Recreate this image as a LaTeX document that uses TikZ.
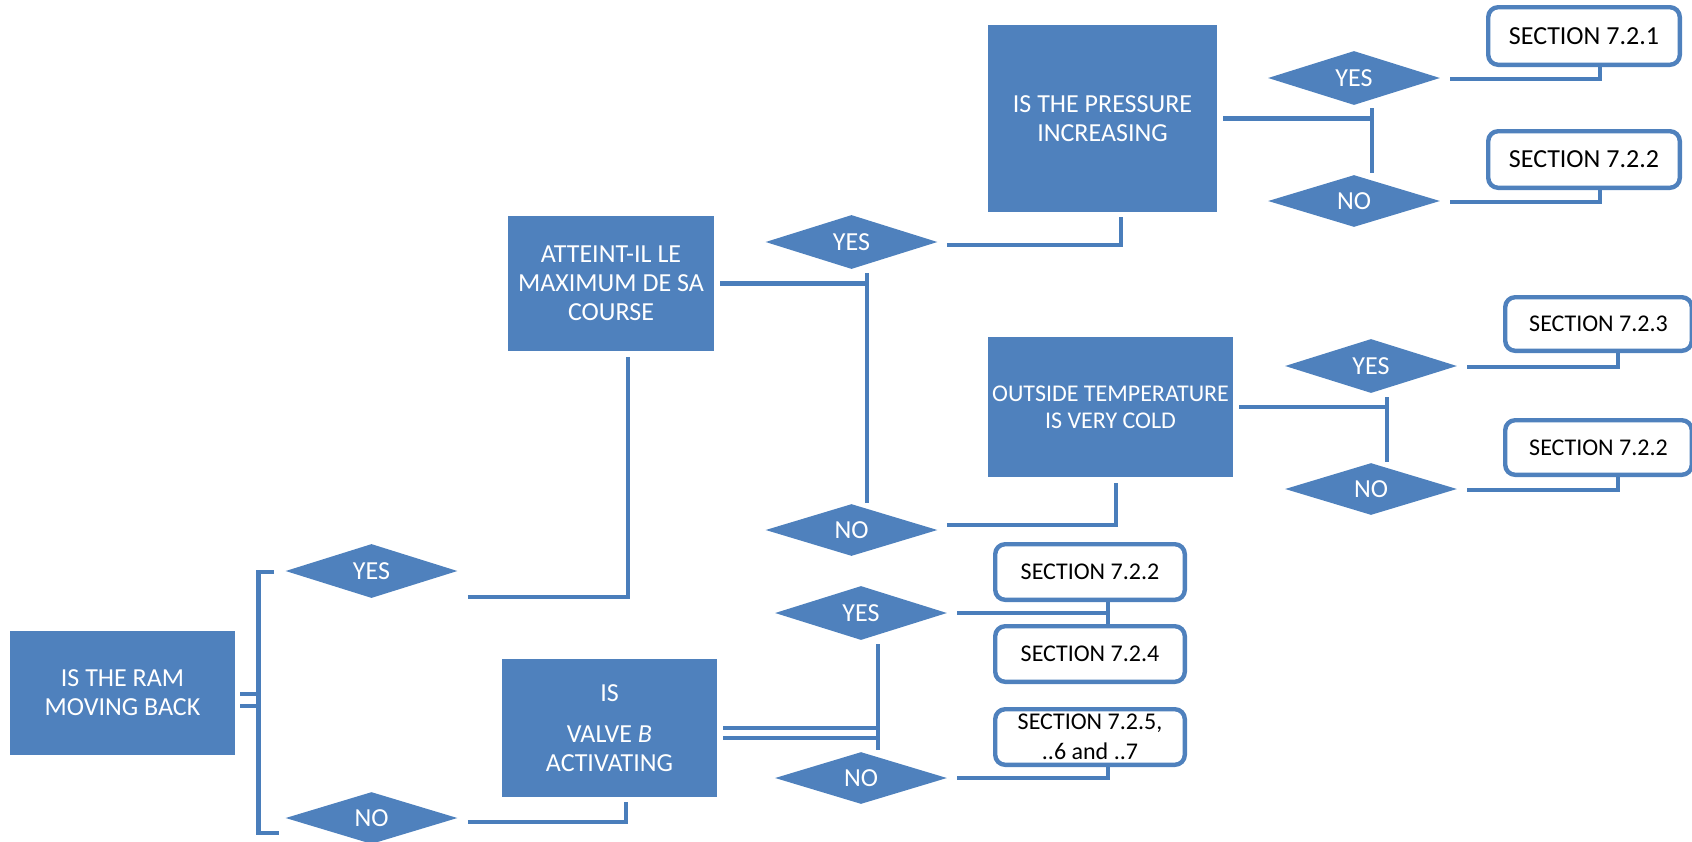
\documentclass[tikz,border=0pt]{standalone}
\usepackage{fontspec}
\setmainfont{Carlito}
\usetikzlibrary{shapes.geometric}
\definecolor{boxblue}{HTML}{4F81BD}
\definecolor{lineblue}{HTML}{4A7EBB}

\begin{document}
\begin{tikzpicture}[
    x=0.5pt, y=-0.5pt,
    text centered,
    question/.style={
      rectangle,
      fill=boxblue,
      text=white,
      align=center,
      inner sep=0,
      font=\fontsize{13}{14.5}\selectfont
    },
    answer/.style={
      diamond,
      fill=boxblue,
      text=white,
      minimum width=86pt,
      minimum height=26pt,
      inner sep=0,
      font=\fontsize{13}{15}\selectfont
    },
    section/.style={
      rectangle,
      rounded corners=5pt,
      draw=boxblue,
      line width=2.2pt,
      fill=white,
      align=center,
      inner sep=0,
      minimum width=94.8pt,
      minimum height=27.8pt,
      font=\fontsize{12}{15}\selectfont
    },
    link/.style={draw=lineblue, line width=2.2pt}
  ]

  \useasboundingbox (0,0) rectangle (1692,841);

  % questions
  \node [question] (R) at (122.5,693) [minimum width=112.5pt, minimum height=62pt] {IS THE RAM\\MOVING BACK};
  \node [question] (M) at (611,283.5) [minimum width=103pt, minimum height=67.5pt] {ATTEINT-IL LE\\MAXIMUM DE SA\\COURSE};
  \node [question] (V) at (609.5,728) [minimum width=107.5pt, minimum height=69pt] {IS\\[6pt]VALVE \textit{B}\\ACTIVATING};
  \node [question] (P) at (1102.5,118.5) [minimum width=114.5pt, minimum height=93.5pt] {IS THE PRESSURE\\INCREASING};
  \node [question] (T) at (1110.5,407) [minimum width=122.5pt, minimum height=70pt, font=\fontsize{12}{13.5}\selectfont] {OUTSIDE TEMPERATURE\\IS VERY COLD};

  % answers
  \node [answer] (Ry) at (371.5,571) {YES};
  \node [answer] (Rn) at (371.5,818) {NO};
  \node [answer] (My) at (851.5,242) {YES};
  \node [answer] (Mn) at (851.5,530) {NO};
  \node [answer] (Vy) at (861,613) {YES};
  \node [answer] (Vn) at (861,778) {NO};
  \node [answer] (Py) at (1354,78) {YES};
  \node [answer] (Pn) at (1354,201) {NO};
  \node [answer] (Ty) at (1371,366) {YES};
  \node [answer] (Tn) at (1371,489) {NO};

  % sections
  \node [section] (S1) at (1584,36) [minimum width=95.8pt, minimum height=28.8pt, font=\fontsize{13}{15}\selectfont] {SECTION 7.2.1};
  \node [section] (S2) at (1584,159.5) [minimum width=95.8pt, minimum height=28.3pt, font=\fontsize{13}{15}\selectfont] {SECTION 7.2.2};
  \node [section] (S3) at (1598.5,324) [minimum width=93.3pt, minimum height=26.8pt] {SECTION 7.2.3};
  \node [section] (S4) at (1598.5,447.5) [minimum width=93.3pt, minimum height=27.3pt] {SECTION 7.2.2};
  \node [section] (S5) at (1090,572) {SECTION 7.2.2};
  \node [section] (S6) at (1090,654) {SECTION 7.2.4};
  \node [section] (S7) at (1090,737) {SECTION 7.2.5,\\..6 and ..7};

  % ram
  \draw [link, line width=2pt] ([shift={(5,1)}]R.east) -- ++(19,0);
  \draw [link, line width=2pt] ([shift={(5,13)}]R.east) -- ++(19,0);
  \draw [link] ([shift={(-11,1)}]Ry.west) -- ++(-15.5,0) |- ([shift={(-6,15)}]Rn.west);
  \draw [link] ([shift={(10,26)}]Ry.east) -| ([shift={(17,6)}]M.south);
  \draw [link] ([shift={(10,4)}]Rn.east) -| ([shift={(16.5,5)}]V.south);

  % course
  \coordinate (m1) at ([shift={(15.5,4)}]My.south);
  \coordinate (m2) at ([shift={(15.5,-1)}]Mn.north);
  \draw [link] (m1) -- (m2);
  \draw [link] ([xshift=3pt]M.east) -- (M.east -| m1);
  \draw [link] ([shift={(9,3)}]My.east) -| ([shift={(18.5,5)}]P.south);
  \draw [link] ([shift={(9,-5)}]Mn.east) -| ([shift={(5.5,6)}]T.south);

  % pressure
  \coordinate (p1) at ([shift={(18,3)}]Py.south);
  \coordinate (p2) at ([shift={(18,-2)}]Pn.north);
  \draw [link] (p1) -- (p2);
  \draw [link] ([xshift=3pt]P.east) -- (P.east -| p1);
  \draw [link] ([shift={(10,1)}]Py.east) -| ([xshift=8pt]S1.south);
  \draw [link] ([shift={(10,1)}]Pn.east) -| ([xshift=8pt]S2.south);

  % temperature
  \coordinate (t1) at ([shift={(16,4)}]Ty.south);
  \coordinate (t2) at ([shift={(16,-1)}]Tn.north);
  \draw [link] (t1) -- (t2);
  \draw [link] ([xshift=3pt]T.east) -- (T.east -| t1);
  \draw [link] ([shift={(10,1)}]Ty.east) -| ([xshift=9.75pt]S3.south);
  \draw [link] ([shift={(10,1)}]Tn.east) -| ([xshift=9.75pt]S4.south);

  % valve
  \coordinate (v1) at ([shift={(17,4)}]Vy.south);
  \coordinate (v2) at ([shift={(17,-2)}]Vn.north);
  \draw [link] (v1) -- (v2);
  \draw [link, line width=2pt] ([xshift=3pt]V.east) -- (V.east -| v1);
  \draw [link, line width=2pt] ([shift={(6,10)}]V.east) -- ([yshift=-5pt]V.east -| v1);
  \coordinate (v3) at ([xshift=9pt]S5.south);
  \coordinate (v4) at ([xshift=9pt]S6.north);
  \draw [link] (v3) -- (v4);
  \draw [link] ([xshift=5pt]Vy.east) -- (Vy.east -| v3);
  \draw [link] ([xshift=5pt]Vn.east) -| ([xshift=9pt]S7.south);

\end{tikzpicture}
\end{document}
